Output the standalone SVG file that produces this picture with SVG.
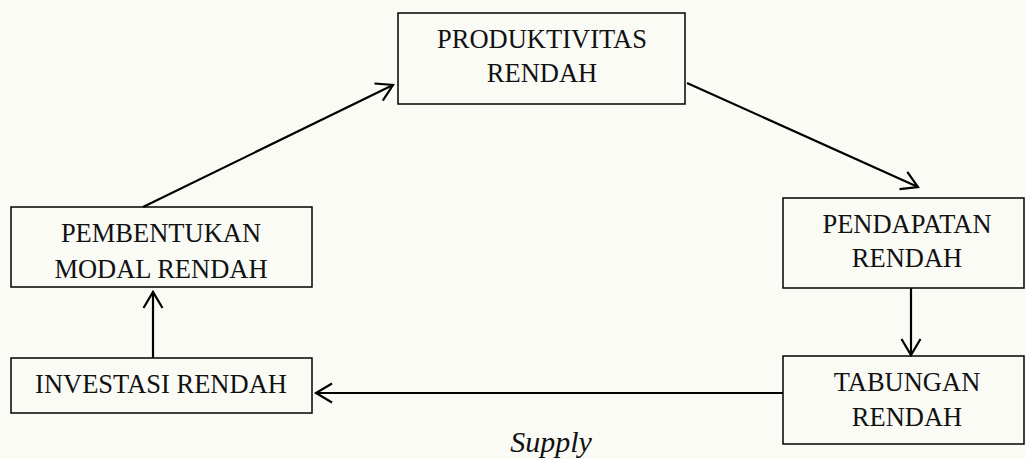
<svg xmlns="http://www.w3.org/2000/svg" width="1026" height="459" viewBox="0 0 1026 459">
<defs>
<marker id="arr" markerUnits="userSpaceOnUse" markerWidth="24" markerHeight="24" refX="20" refY="12" orient="auto" viewBox="0 0 24 24">
<path d="M4,2.5 L20,12 L4,21.5" fill="none" stroke="#000" stroke-width="2.2"/>
</marker>
</defs>
<style>
.box{fill:none;stroke:#000;stroke-width:1.5}
.t{font-family:"Liberation Serif","Times New Roman",serif;font-size:26.5px;fill:#111;text-anchor:middle}
.c{stroke:#000;stroke-width:2.2;fill:none;marker-end:url(#arr)}
</style>
<rect width="1026" height="459" fill="#fbfbf6"/>
<g id="produktivitas">
<rect class="box" x="398" y="13" width="287" height="91"/>
<text class="t" x="542" y="48">PRODUKTIVITAS</text>
<text class="t" x="542" y="82">RENDAH</text>
</g>
<g id="pendapatan">
<rect class="box" x="783" y="198" width="241" height="90"/>
<text class="t" x="907" y="233">PENDAPATAN</text>
<text class="t" x="907" y="267">RENDAH</text>
</g>
<g id="tabungan">
<rect class="box" x="783" y="356" width="241" height="88"/>
<text class="t" x="907" y="391">TABUNGAN</text>
<text class="t" x="907" y="426">RENDAH</text>
</g>
<g id="investasi">
<rect class="box" x="11" y="358" width="301" height="55"/>
<text class="t" x="161" y="393">INVESTASI RENDAH</text>
</g>
<g id="pembentukan">
<rect class="box" x="11" y="207" width="301" height="80"/>
<text class="t" x="161" y="242">PEMBENTUKAN</text>
<text class="t" x="161" y="278">MODAL RENDAH</text>
</g>
<g id="connectors">
<line class="c" x1="687" y1="83" x2="918" y2="187"/>
<line class="c" x1="911" y1="288" x2="911" y2="355"/>
<line class="c" x1="783" y1="393" x2="316" y2="393"/>
<line class="c" x1="153" y1="358" x2="153" y2="292"/>
<line class="c" x1="143" y1="207" x2="393" y2="85"/>
</g>
<text x="551" y="452" style="font-family:'Liberation Serif','Times New Roman',serif;font-size:30px;font-style:italic;fill:#111;text-anchor:middle">Supply</text>
</svg>
